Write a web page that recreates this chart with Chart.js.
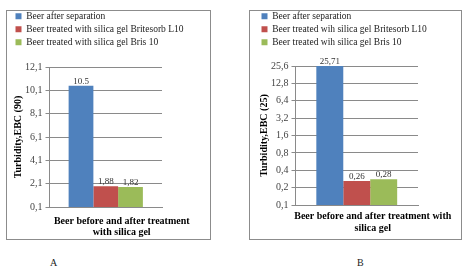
<!DOCTYPE html>
<html>
<head>
<meta charset="utf-8">
<script src="https://cdn.jsdelivr.net/npm/chart.js@4.4.0/dist/chart.umd.min.js"></script>
<style>
body { margin: 0; width: 466px; height: 272px; background: #fff; position: relative; overflow: hidden; font-family: "Liberation Serif", serif; }
.frame { position: absolute; border: 1px solid #8c8c8c; box-sizing: border-box; }
.wrap { position: absolute; }
.tag { position: absolute; font-size: 10px; color: #222; }
</style>
</head>
<body>
<div class="frame" style="left:6px;top:10px;width:205px;height:230px"></div>
<div class="frame" style="left:249px;top:10px;width:213px;height:230px"></div>
<div class="wrap" style="left:7px;top:8px;width:203px;height:245px"><canvas id="chartA"></canvas></div>
<div class="wrap" style="left:250px;top:8px;width:211px;height:245px"><canvas id="chartB"></canvas></div>
<div class="tag" style="left:50px;top:257px">A</div>
<div class="tag" style="left:357px;top:257px">B</div>
<script>
// Data block
const categoryA = [['Beer before and after treatment', 'with silica gel']];
const categoryB = [['Beer before and after treatment with', 'silica gel']];
const seriesNamesA = ['Beer after separation', 'Beer treated with silica gel Britesorb L10', 'Beer treated with silica gel Bris 10'];
const seriesNamesB = ['Beer after separation', 'Beer treated wih silica gel Britesorb L10', 'Beer treated wih silica gel Bris 10'];
const seriesColors = ['#4F81BD', '#C0504D', '#9BBB59'];
const turbidityA = [10.5, 1.88, 1.82];
const turbidityB = [25.71, 0.26, 0.28];
const valueTextA = ['10.5', '1,88', '1,82'];
const valueTextB = ['25,71', '0,26', '0,28'];
const ticksA = [0.1, 2.1, 4.1, 6.1, 8.1, 10.1, 12.1];
const ticksB = [0.1, 0.2, 0.4, 0.8, 1.6, 3.2, 6.4, 12.8, 25.6];

const serif = '"Liberation Serif", "Times New Roman", serif';
const gridColor = '#8a8a8a';

// Legend Margin plugin block
function legendMargin(extra) {
    return {
        id: 'legendMargin',
        beforeInit(chart) {
            const fitValue = chart.legend.fit
            chart.legend.fit = function fit() {
                fitValue.bind(chart.legend)();
                return this.height += extra
            }
        }
    }
}

// Value labels on top of the bars
function valueLabels(texts) {
    return {
        id: 'valueLabels',
        afterDatasetsDraw(chart) {
            const ctx = chart.ctx;
            ctx.save();
            ctx.font = '9px ' + serif;
            ctx.fillStyle = '#333';
            ctx.textAlign = 'center';
            ctx.textBaseline = 'bottom';
            chart.data.datasets.forEach((ds, i) => {
                chart.getDatasetMeta(i).data.forEach(bar => {
                    ctx.fillText(texts[i], bar.x, bar.y);
                });
            });
            ctx.restore();
        }
    }
}

const commaNum = v => String(v).replace('.', ',');

// Config builder
function makeConfig(category, names, values, texts, ticks, yType, yTitle, opt) {
    return {
        type: 'bar',
        data: {
            labels: category,
            datasets: names.map((n, i) => ({
                label: n,
                data: [values[i]],
                backgroundColor: seriesColors[i],
                barPercentage: 1,
                categoryPercentage: 0.66
            }))
        },
        options: {
            animation: false,
            maintainAspectRatio: false,
            layout: {padding: opt.pad},
            plugins: {
                legend: {
                    position: 'top',
                    align: 'start',
                    onClick: null,
                    labels: {
                        boxWidth: 6,
                        boxHeight: 6,
                        padding: 3.5,
                        color: '#222',
                        font: {family: serif, size: 9.5}
                    }
                },
                tooltip: {enabled: false}
            },  // End Plugins
            scales: {
                x: {
                    grid: {display: false, drawTicks: false},
                    border: {display: true, color: gridColor},
                    afterFit: s => { s.paddingLeft = 0; s.paddingRight = 0; },
                    ticks: {
                        color: '#000',
                        maxRotation: 0,
                        padding: opt.xPad,
                        labelOffset: 16,
                        font: {family: serif, size: 10, weight: 'bold', lineHeight: opt.xLine}
                    }
                },
                y: {
                    type: yType,
                    min: ticks[0],
                    max: ticks[ticks.length - 1],
                    afterBuildTicks: scale => {
                        scale.ticks = ticks.map(v => ({value: v}));
                    },
                    grid: {color: gridColor, tickLength: 4},
                    border: {display: true, color: gridColor},
                    ticks: {
                        color: '#444',
                        padding: 3,
                        font: {family: serif, size: 10},
                        callback: v => commaNum(v)
                    },
                    title: {
                        display: true,
                        text: yTitle,
                        color: '#000',
                        font: {family: serif, size: 10, weight: 'bold'},
                        padding: {top: 0, bottom: -2}
                    }
                },
                // empty right-hand axis, only keeps room right of the plot
                spacer: {
                    position: 'right',
                    display: true,
                    grid: {display: false, drawTicks: false},
                    border: {display: false},
                    ticks: {display: false},
                    afterFit: s => { s.width = opt.right; }
                }
            }
        },  // End options
        plugins: [legendMargin(opt.extra), valueLabels(texts)]
    };
}

// render / init block
const chartA = new Chart(
    document.getElementById('chartA'),
    makeConfig(categoryA, seriesNamesA, turbidityA, valueTextA, ticksA, 'linear', 'Turbidity,EBC (90)',
        {pad: {left: 5, right: 0, top: 0, bottom: 6}, right: 48, extra: 10, xPad: 9, xLine: 1.1})
);
const chartB = new Chart(
    document.getElementById('chartB'),
    makeConfig(categoryB, seriesNamesB, turbidityB, valueTextB, ticksB, 'logarithmic', 'Turbidity,EBC (25)',
        {pad: {left: 8, right: 0, top: 0, bottom: 14}, right: 43, extra: 9, xPad: 5, xLine: 1.2})
);
</script>
</body>
</html>
